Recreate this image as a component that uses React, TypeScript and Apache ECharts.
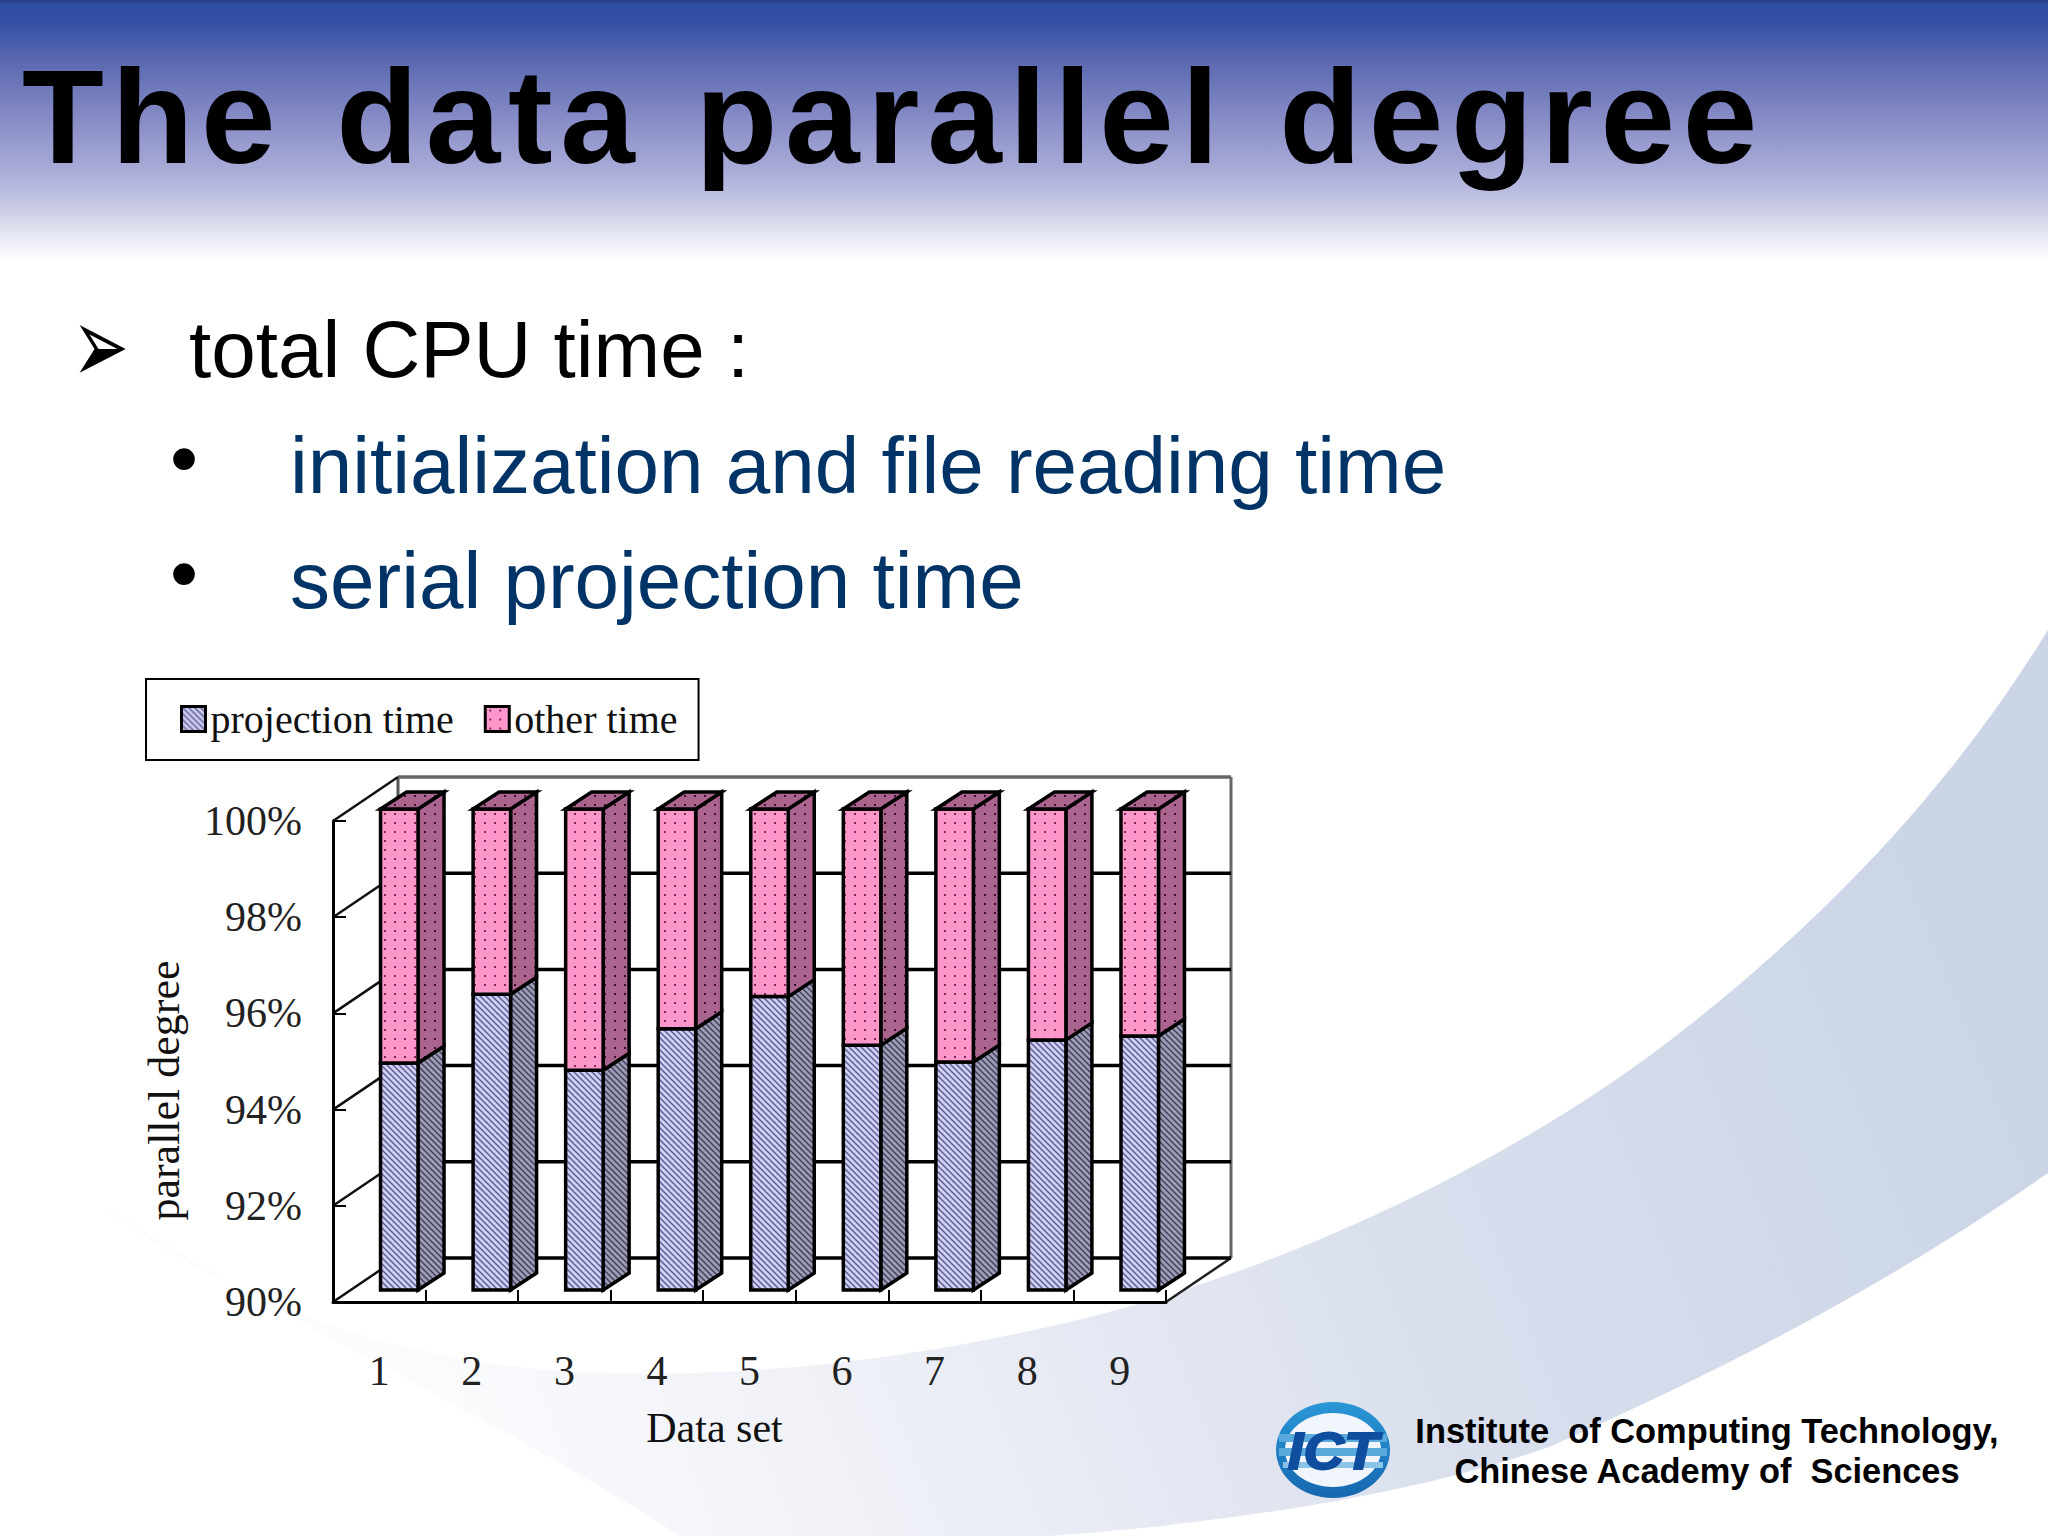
import React, { useEffect, useRef } from "react";
import * as echarts from "echarts";

const categories = ["1", "2", "3", "4", "5", "6", "7", "8", "9"];
const projectionTime = [94.72, 96.15, 94.57, 95.43, 96.1, 95.09, 94.74, 95.2, 95.28];
const otherTime = [5.28, 3.85, 5.43, 4.57, 3.9, 4.91, 5.26, 4.8, 4.72];
const yTicks = [90, 92, 94, 96, 98, 100];
const TITLE = "The data parallel degree";

const SERIF = "Liberation Serif";
const SANS = "Liberation Sans";

const swooshPath =
  "M100 1205 C210 1285 330 1340 500 1365 C620 1380 800 1378 1000 1337 C1250 1290 1500 1170 1668 1042 C1820 925 1950 790 2048 630 L2048 1173 C1869 1298 1700 1380 1549 1447 C1400 1500 1200 1525 1050 1536 L680 1536 C500 1420 300 1330 100 1205 Z";
echarts.graphic.registerShape("swoosh", echarts.graphic.extendPath(swooshPath, {}) as any);

function hatch(bg: string, line: string) {
  const s = 6;
  const c = document.createElement("canvas");
  c.width = s;
  c.height = s;
  const g = c.getContext("2d")!;
  g.fillStyle = bg;
  g.fillRect(0, 0, s, s);
  g.strokeStyle = line;
  g.lineWidth = 1.5;
  for (let k = -s; k <= s; k += s) {
    g.beginPath();
    g.moveTo(k - 1, -1);
    g.lineTo(k + s + 1, s + 1);
    g.stroke();
  }
  return { image: c, repeat: "repeat", imageWidth: s, imageHeight: s };
}

function dots(bg: string, dot: string) {
  const w = 10;
  const h = 9;
  const c = document.createElement("canvas");
  c.width = w;
  c.height = h;
  const g = c.getContext("2d")!;
  g.fillStyle = bg;
  g.fillRect(0, 0, w, h);
  g.fillStyle = dot;
  g.fillRect(4, 3, 2, 2);
  return { image: c, repeat: "repeat", imageWidth: w, imageHeight: h };
}

const DX = 20;
const DY = -12;
const DEPTH_X = 26;
const DEPTH_Y = -17;
const BACK_X = 65;
const BACK_Y = -44;

function barRender(front: any, side: any, top: any) {
  return (params: any, api: any) => {
    const idx = api.value(0);
    const low = api.coord([idx, api.value(1)]);
    const high = api.coord([idx, api.value(2)]);
    const w = api.size([1, 0])[0] * 0.405;
    const x0 = low[0] + DX - w / 2;
    const x1 = x0 + w;
    const yl = low[1] + DY;
    const yh = high[1] + DY;
    const stroke = { stroke: "#000", lineWidth: 3.5 };
    const children: any[] = [
      {
        type: "polygon",
        shape: { points: [[x1, yl], [x1 + DEPTH_X, yl + DEPTH_Y], [x1 + DEPTH_X, yh + DEPTH_Y], [x1, yh]] },
        style: { fill: side, ...stroke },
      },
      { type: "rect", shape: { x: x0, y: yh, width: w, height: yl - yh }, style: { fill: front, ...stroke } },
    ];
    if (top) {
      children.push({
        type: "polygon",
        shape: { points: [[x0, yh], [x0 + DEPTH_X, yh + DEPTH_Y], [x1 + DEPTH_X, yh + DEPTH_Y], [x1, yh]] },
        style: { fill: top, ...stroke },
      });
    }
    return { type: "group", children };
  };
}

function wallRender(params: any, api: any) {
  const cs = params.coordSys;
  const v = api.value(0);
  const y = api.coord([0, v])[1];
  const left = cs.x;
  const right = cs.x + cs.width;
  const children: any[] = [];
  if (v === 90) {
    const top = cs.y;
    const bot = cs.y + cs.height;
    children.push({
      type: "polygon",
      shape: {
        points: [
          [left, top],
          [left + BACK_X, top + BACK_Y],
          [right + BACK_X, top + BACK_Y],
          [right + BACK_X, bot + BACK_Y],
          [right, bot],
          [left, bot],
        ],
      },
      style: { fill: "#fff" },
    });
    children.push({
      type: "line",
      shape: { x1: right + BACK_X, y1: top + BACK_Y, x2: right + BACK_X, y2: bot + BACK_Y },
      style: { stroke: "#666", lineWidth: 3 },
    });
    children.push({
      type: "line",
      shape: { x1: left + BACK_X, y1: top + BACK_Y, x2: left + BACK_X, y2: bot + BACK_Y },
      style: { stroke: "#555", lineWidth: 3 },
    });
    children.push({
      type: "line",
      shape: { x1: right, y1: bot, x2: right + BACK_X, y2: bot + BACK_Y },
      style: { stroke: "#222", lineWidth: 2.5 },
    });
  }
  children.push({
    type: "line",
    shape: { x1: left + BACK_X, y1: y + BACK_Y, x2: right + BACK_X, y2: y + BACK_Y },
    style: { stroke: v === 100 ? "#666" : "#000", lineWidth: 3.5 },
  });
  children.push({
    type: "line",
    shape: { x1: left, y1: y, x2: left + BACK_X, y2: y + BACK_Y },
    style: { stroke: "#111", lineWidth: 2.5 },
  });
  return { type: "group", children };
}

export default function App() {
  const ref = useRef<HTMLDivElement>(null);
  useEffect(() => {
    document.body.style.margin = "0";
    document.body.style.background = "#fff";
    const chart = echarts.init(ref.current!, null, { renderer: "svg" });

    const blueFront = hatch("#d0d0f2", "#5c5c98");
    const blueSide = hatch("#9c9cb4", "#42425f");
    const pinkFront = dots("#fd96c9", "#7a2a5c");
    const pinkSide = dots("#ab648e", "#3c1230");

    const text = (t: string, x: number, y: number, size: number, fill: string, extra: any = {}, align = "left", weight = "normal", family = SANS, styleExtra: any = {}) => ({
      type: "text",
      x,
      y,
      z: 1,
      ...extra,
      style: { text: t, fill, font: `${weight} ${size}px "${family}"`, textAlign: align, textVerticalAlign: "middle", ...styleExtra },
    });

    chart.setOption({
      animation: false,
      backgroundColor: "#fff",
      graphic: {
        elements: [
          {
            type: "rect",
            z: -10,
            shape: { x: 0, y: 0, width: 2048, height: 262 },
            style: {
              fill: new echarts.graphic.LinearGradient(0, 0, 0, 1, [
                { offset: 0, color: "#243a80" },
                { offset: 0.015, color: "#2c4ea2" },
                { offset: 0.08, color: "#3350a6" },
                { offset: 0.23, color: "#5b69b1" },
                { offset: 0.5, color: "#8f93ca" },
                { offset: 0.65, color: "#a9acd8" },
                { offset: 0.77, color: "#c3c5e4" },
                { offset: 0.88, color: "#e1e3f1" },
                { offset: 1, color: "#ffffff" },
              ]),
            },
          },
          {
            type: "swoosh",
            z: -9,
            style: {
              fill: new echarts.graphic.LinearGradient(
                1900, 800, 400, 1400,
                [
                  { offset: 0, color: "#cbd5e6" },
                  { offset: 0.4, color: "#d9dfed" },
                  { offset: 0.75, color: "#eff1f7" },
                  { offset: 1, color: "#fcfcfe" },
                ],
                true
              ),
            },
          },
          text(TITLE, 22, 116, 134, "#000", {}, "left", "bold"),
          text("➢", 72, 345, 68, "#000", { scaleY: 1.6 }, "left", "normal", "DejaVu Sans"),
          text("total CPU time :", 189, 349, 80, "#000"),
          text("•", 170, 458, 80, "#000"),
          text("initialization and file reading time", 290, 465, 80, "#003366"),
          text("•", 170, 573, 80, "#000"),
          text("serial projection time", 290, 580, 80, "#003366"),
          {
            type: "ellipse",
            z: 1,
            shape: { cx: 1333, cy: 1450, rx: 57, ry: 48 },
            style: {
              fill: new echarts.graphic.LinearGradient(0, 0, 0, 1, [
                { offset: 0, color: "#2a97d6" },
                { offset: 1, color: "#1668b0" },
              ]),
            },
          },
          { type: "ellipse", z: 1, shape: { cx: 1333, cy: 1450, rx: 48, ry: 37 }, style: { fill: "#f0f6fb" } },
          { type: "rect", z: 1, shape: { x: 1279, y: 1434, width: 108, height: 8 }, style: { fill: "#5aa9dc" } },
          { type: "rect", z: 1, shape: { x: 1279, y: 1448, width: 108, height: 8 }, style: { fill: "#5aa9dc" } },
          { type: "rect", z: 1, shape: { x: 1283, y: 1462, width: 100, height: 6 }, style: { fill: "#8cc4e8" } },
          text("ICT", 1333, 1451, 52, "#0f4d9e", { scaleX: 1.08 }, "center", "italic bold", SANS, { stroke: "#0f4d9e", lineWidth: 2 }),
          text("Institute  of Computing Technology,", 1707, 1431, 34.4, "#000", {}, "center", "bold"),
          text("Chinese Academy of  Sciences", 1707, 1471, 34.4, "#000", {}, "center", "bold"),
        ],
      },
      legend: {
        left: 146,
        top: 679,
        orient: "horizontal",
        selectedMode: false,
        backgroundColor: "#fff",
        borderColor: "#000",
        borderWidth: 2,
        padding: [20, 21, 21, 34],
        itemGap: 30,
        itemWidth: 24,
        itemHeight: 25,
        textStyle: { fontFamily: SERIF, fontSize: 40, color: "#111" },
        data: [
          { name: "projection time", icon: "rect", itemStyle: { color: blueFront, borderColor: "#000", borderWidth: 3 } },
          { name: "other time", icon: "rect", itemStyle: { color: pinkFront, borderColor: "#000", borderWidth: 3 } },
        ],
      },
      grid: { left: 333, top: 821, width: 833, height: 481, containLabel: false },
      xAxis: {
        type: "category",
        data: categories,
        z: 5,
        name: "Data set",
        nameLocation: "middle",
        nameGap: 105,
        nameTextStyle: { fontFamily: SERIF, fontSize: 42, color: "#111", padding: [0, 70, 0, 0] },
        axisLine: { lineStyle: { color: "#000", width: 3 } },
        axisTick: { show: true, inside: true, length: 12, lineStyle: { color: "#000", width: 2 } },
        axisLabel: { margin: 48, fontFamily: SERIF, fontSize: 42, color: "#222" },
        splitLine: { show: false },
      },
      yAxis: {
        type: "value",
        min: 90,
        max: 100,
        interval: 2,
        z: 5,
        name: "parallel degree",
        nameLocation: "middle",
        nameGap: 147,
        nameRotate: 90,
        nameTextStyle: { fontFamily: SERIF, fontSize: 44, color: "#111", padding: [0, 58, 0, 0] },
        axisLine: { show: true, lineStyle: { color: "#000", width: 3 } },
        axisTick: { show: true, inside: true, length: 13, lineStyle: { color: "#000", width: 2 } },
        axisLabel: { margin: 31, formatter: "{value}%", fontFamily: SERIF, fontSize: 42, color: "#222" },
        splitLine: { show: false },
      },
      series: [
        {
          type: "custom",
          name: "walls",
          z: 1,
          silent: true,
          renderItem: wallRender,
          encode: { y: 0 },
          data: yTicks.map((v) => [v]),
        },
        {
          type: "custom",
          name: "projection time",
          z: 2,
          itemStyle: { color: blueFront },
          renderItem: barRender(blueFront, blueSide, null),
          encode: { x: 0, y: [1, 2] },
          data: categories.map((_, i) => [i, 90, projectionTime[i]]),
        },
        {
          type: "custom",
          name: "other time",
          z: 3,
          itemStyle: { color: pinkFront },
          renderItem: barRender(pinkFront, pinkSide, pinkSide),
          encode: { x: 0, y: [1, 2] },
          data: categories.map((_, i) => [i, projectionTime[i], projectionTime[i] + otherTime[i]]),
        },
      ],
    });
    ref.current!.querySelectorAll("text").forEach((t) => {
      if (t.textContent === TITLE) {
        t.setAttribute("letter-spacing", "7.7px");
        t.setAttribute("word-spacing", "8px");
      }
    });
    return () => chart.dispose();
  }, []);
  return <div ref={ref} style={{ width: 2048, height: 1536 }} />;
}
